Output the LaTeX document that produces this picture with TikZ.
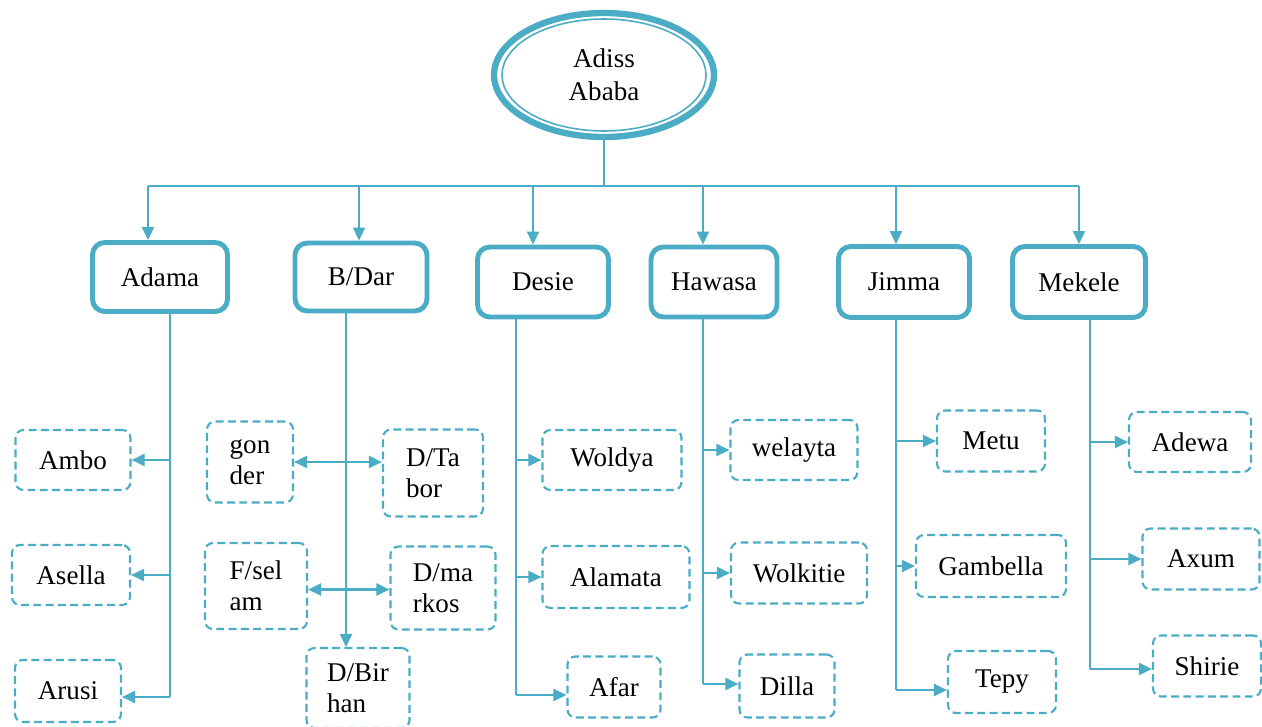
\documentclass[tikz,border=0pt]{standalone}
\usepackage{fontspec}
\setmainfont{Liberation Serif}
\usetikzlibrary{arrows.meta,shapes.geometric}
\newdimen\upx \upx=0.02cm
\definecolor{tl}{HTML}{4BACC6}
\begin{document}
\begin{tikzpicture}[x=0.02cm,y=-0.02cm,
 every node/.style={font=\fontsize{15.4}{17.6}\selectfont, text=black},
 sz/.style 2 args={minimum width=#1\upx, minimum height=#2\upx, inner sep=0pt},
 city/.style={draw=tl, line width=2.8pt, rounded corners=7pt},
 leaf/.style={draw=tl, line width=1.2pt, dash pattern=on 4.5pt off 2.5pt, rounded corners=4.5pt, align=left},
 conn/.style={draw=tl, line width=1.3pt},
 arr/.style={conn, -{Triangle[length=7.4pt,width=6.8pt]}},
 arr2/.style={conn, {Triangle[length=7.4pt,width=6.8pt]}-{Triangle[length=7.4pt,width=6.8pt]}},
]
\useasboundingbox[fill=white] (0,0) rectangle (1262,727);

% root
\node[ellipse, draw=tl, line width=3.6pt, sz={220}{124}, align=center,
      font=\fontsize{15.4}{18.8}\selectfont] (aa) at (604,75) {Adiss\\Ababa};
\draw[tl, line width=0.9pt] (aa.center) ellipse [x radius=102\upx, y radius=56\upx];

% cities
\node[city, sz={135}{69}] (adama)  at (160,277) {Adama};
\node[city, sz={132}{68}] (bdar)   at (361,277) {B/Dar};
\node[city, sz={131}{70}] (desie)  at (543,282) {Desie};
\node[city, sz={126}{70}] (hawasa) at (714,282) {Hawasa};
\node[city, sz={131}{71}] (jimma)  at (904,282) {Jimma};
\node[city, sz={133}{71}] (mekele) at (1079,282) {Mekele};

% leaves
\node[leaf, sz={115}{60}] (ambo)    at (73,460)  {Ambo};
\node[leaf, sz={118}{60}] (asella)  at (71,575)  {Asella};
\node[leaf, sz={106}{62}] (arusi)   at (68,691)  {Arusi};
\node[leaf, sz={86}{81}]  (gonder)  at (250,462) {gon\\der};
\node[leaf, sz={100}{87}] (dtabor)  at (433,473) {D/Ta\\bor};
\node[leaf, sz={102}{86}] (fselam)  at (256,586) {F/sel\\am};
\node[leaf, sz={105}{83}] (dmarkos) at (443,588) {D/ma\\rkos};
\node[leaf, sz={103}{80}] (dbir)    at (358,688) {D/Bir\\han};
\node[leaf, sz={139}{60}] (woldya)  at (612,460) {Woldya};
\node[leaf, sz={147}{62}] (alamata) at (616,577) {Alamata};
\node[leaf, sz={93}{61}]  (afar)    at (614,687) {Afar};
\node[leaf, sz={127}{60}] (welayta) at (794,450) {welayta};
\node[leaf, sz={136}{61}] (wolkitie) at (799,573) {Wolkitie};
\node[leaf, sz={95}{63}]  (dilla)   at (787,686) {Dilla};
\node[leaf, sz={108}{61}] (metu)    at (991,441) {Metu};
\node[leaf, sz={150}{62}] (gambella) at (991,566) {Gambella};
\node[leaf, sz={108}{62}] (tepy)    at (1002,682) {Tepy};
\node[leaf, sz={122}{60}] (adewa)   at (1190,442) {Adewa};
\node[leaf, sz={117}{61}] (axum)    at (1201,559) {Axum};
\node[leaf, sz={108}{61}] (shirie)  at (1207,666) {Shirie};

% bus
\coordinate (bus) at (604,186);
\coordinate (dA) at (148,186);
\coordinate (dB) at (359,186);
\coordinate (dD) at (533,186);
\coordinate (dH) at (703,186);
\coordinate (dJ) at (896,186);
\coordinate (dM) at (1079,186);
\draw[conn] (aa.south) -- (bus);
\draw[conn] (dA) -- (dM);
\draw[arr] (dA) -- (dA |- adama.north);
\draw[arr] (dB) -- (dB |- bdar.north);
\draw[arr] (dD) -- (dD |- desie.north);
\draw[arr] (dH) -- (dH |- hawasa.north);
\draw[arr] (dJ) -- (dJ |- jimma.north);
\draw[arr] (dM) -- (dM |- mekele.north);

% Adama
\coordinate (tA) at (170,697);
\draw[conn] (tA |- adama.south) -- (tA);
\draw[arr] (tA |- ambo.east) -- (ambo.east);
\draw[arr] (tA |- asella.east) -- (asella.east);
\draw[arr] (tA) -- (tA -| arusi.east);

% B/Dar
\coordinate (tB) at (346,645);
\draw[arr] (tB |- bdar.south) -- (tB |- dbir.north);
\draw[arr2] (gonder.east) -- (gonder.east -| dtabor.west);
\draw[arr2] ([yshift=-2pt]fselam.east) -- ([yshift=-2pt]fselam.east -| dmarkos.west);

% Desie
\coordinate (tD) at (516,695);
\draw[conn] (tD |- desie.south) -- (tD);
\draw[arr] (tD |- woldya.west) -- (woldya.west);
\draw[arr] (tD |- alamata.west) -- (alamata.west);
\draw[arr] (tD) -- (tD -| afar.west);

% Hawasa
\coordinate (tH) at (703,684);
\draw[conn] (tH |- hawasa.south) -- (tH);
\draw[arr] (tH |- welayta.west) -- (welayta.west);
\draw[arr] (tH |- wolkitie.west) -- (wolkitie.west);
\draw[arr] (tH) -- (tH -| dilla.west);

% Jimma
\coordinate (tJ) at (896,690);
\draw[conn] (tJ |- jimma.south) -- (tJ);
\draw[arr] (tJ |- metu.west) -- (metu.west);
\draw[arr] (tJ |- gambella.west) -- (gambella.west);
\draw[arr] (tJ) -- (tJ -| tepy.west);

% Mekele
\coordinate (tM) at (1090,669);
\draw[conn] (tM |- mekele.south) -- (tM);
\draw[arr] (tM |- adewa.west) -- (adewa.west);
\draw[arr] (tM |- axum.west) -- (axum.west);
\draw[arr] (tM) -- (tM -| shirie.west);
\end{tikzpicture}
\end{document}
